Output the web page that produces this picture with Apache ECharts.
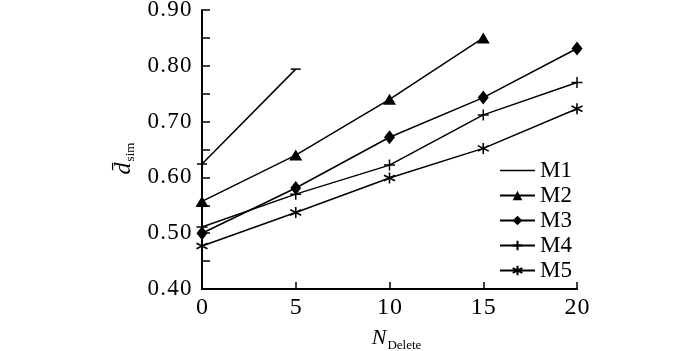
<!DOCTYPE html>
<html><head><meta charset="utf-8">
<script src="https://cdn.jsdelivr.net/npm/echarts@6/dist/echarts.min.js"></script>
<style>html,body{margin:0;padding:0;background:#fff}#c{width:700px;height:351px}</style>
</head><body><div id="c"></div>
<script>
var xValues = [0, 5, 10, 15, 20];
var seriesNames = ['M1', 'M2', 'M3', 'M4', 'M5'];
var m1 = [0.624, 0.794];
var m2 = [0.557, 0.640, 0.740, 0.850];
var m3 = [0.500, 0.581, 0.672, 0.743, 0.831];
var m4 = [0.511, 0.570, 0.622, 0.712, 0.770];
var m5 = [0.477, 0.537, 0.599, 0.652, 0.723];

var allData = [m1, m2, m3, m4, m5];
var F = 'Liberation Serif, Times New Roman, serif';
function spaced(s){ return s.split('').map(function(c){ return '{c|' + c + '}'; }).join(''); }
var yRich = {c: {fontFamily: F, fontSize: 23, color: '#000', padding: [0, 0.6, 0, 0.6]}};
var xRich = {c: {fontFamily: F, fontSize: 24, color: '#000', padding: [0, 0.4, 0, 0.4]}};
var symbols = [
  {symbol: 'rect', size: [10, 1.5], border: 0},
  {symbol: 'triangle', size: [13, 11], border: 0},
  {symbol: 'diamond', size: [11, 14], border: 0},
  {symbol: 'path://M5,0L5,10M0,5L10,5', size: 11, border: 1.5},
  {symbol: 'path://M5,0L5,10M0.67,2.5L9.33,7.5M0.67,7.5L9.33,2.5', size: 11, border: 1.6}
];
function pairs(arr){ return arr.map(function(v,i){ return [xValues[i], v]; }); }
var series = allData.map(function(d, k){
  return {
    name: seriesNames[k], type: 'line', data: pairs(d),
    symbol: symbols[k].symbol, symbolSize: symbols[k].size,
    showAllSymbol: true,
    lineStyle: {color: '#000', width: 1.5},
    itemStyle: {color: '#000', borderColor: '#000', borderWidth: symbols[k].border},
    emphasis: {disabled: true}, animation: false
  };
});
var legendData = seriesNames.map(function(n, k){
  return k === 0 ? {name: n, icon: 'path://M0,0h66v3h-66z'} : {name: n};
});
var chart = echarts.init(document.getElementById('c'), null, {renderer: 'canvas'});
chart.setOption({
  animation: false,
  grid: {left: 202, right: 123, top: 10, bottom: 62, containLabel: false, outerBoundsMode: 'none'},
  legend: {
    orient: 'vertical', left: 494, top: 154, itemWidth: 35, itemHeight: 12, itemGap: 2,
    textStyle: {fontFamily: F, fontSize: 23, color: '#000', lineHeight: 22},
    data: legendData
  },
  xAxis: {
    type: 'value', min: 0, max: 20, interval: 5,
    name: '{n|N}{s|Delete}', nameLocation: 'middle', nameGap: 21,
    nameTextStyle: {padding: [0, 0, 0, 14], rich: {
      n: {fontFamily: F, fontStyle: 'italic', fontSize: 22, color: '#000', lineHeight: 24},
      s: {fontFamily: F, fontSize: 13, color: '#000', padding: [14, 0, 0, 1], lineHeight: 24}
    }},
    axisLine: {lineStyle: {color: '#000', width: 2}},
    axisTick: {inside: true, length: 7, lineStyle: {color: '#000', width: 1.5}},
    axisLabel: {fontFamily: F, fontSize: 24, color: '#000', margin: 7, rich: xRich,
      formatter: function(v){ return spaced(String(v)); }},
    splitLine: {show: false}
  },
  yAxis: {
    type: 'value', min: 0.4, max: 0.9, interval: 0.1,
    name: '{d|d\u0304}{s|sim}', nameLocation: 'middle', nameGap: 54, nameRotate: 90,
    nameTextStyle: {padding: [0, 18, 0, 0], rich: {
      d: {fontFamily: F, fontStyle: 'italic', fontSize: 24, color: '#000', lineHeight: 26},
      s: {fontFamily: F, fontSize: 13, color: '#000', padding: [12, 0, 0, 1], lineHeight: 26}
    }},
    axisLine: {show: true, lineStyle: {color: '#000', width: 2}},
    axisTick: {inside: true, length: 8, lineStyle: {color: '#000', width: 1.5}},
    minorTick: {show: true, splitNumber: 2, length: 8, lineStyle: {color: '#000', width: 1.5}},
    axisLabel: {fontFamily: F, fontSize: 23, color: '#000', margin: 10, rich: yRich,
      formatter: function(v){ return spaced(v.toFixed(2)); }},
    splitLine: {show: false}
  },
  series: series
});
</script></body></html>
